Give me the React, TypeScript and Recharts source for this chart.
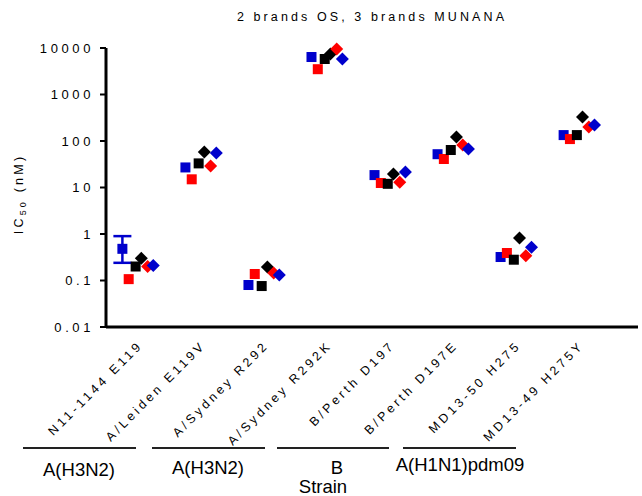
import React from "react";
import { ScatterChart, Scatter, XAxis, YAxis, ErrorBar } from "recharts";

const strains = [
  "N11-1144 E119",
  "A/Leiden E119V",
  "A/Sydney R292",
  "A/Sydney R292K",
  "B/Perth D197",
  "B/Perth D197E",
  "MD13-50 H275",
  "MD13-49 H275Y",
];

// IC50 (nM) per strain, one array per marker
const blueSquare = [0.48, 27, 0.08, 6400, 18.5, 52, 0.32, 134];
const redSquare = [0.107, 15, 0.138, 3500, 12.5, 41, 0.39, 110];
const blackSquare = [0.2, 33, 0.076, 5800, 12, 64, 0.28, 134];
const blackDiamond = [0.3, 58, 0.195, 7400, 19.5, 122, 0.82, 330];
const redDiamond = [0.2, 29, 0.145, 9500, 13, 82, 0.34, 200];
const blueDiamond = [0.21, 55, 0.132, 5800, 21.6, 67, 0.52, 220];
// range (low, high) for the blue square where there is one
const blueSquareRange: ([number, number] | null)[] = [[0.24, 0.9], null, null, null, null, null, null, null];

const yTicks = [0.01, 0.1, 1, 10, 100, 1000, 10000];

const groups = [
  { label: "A(H3N2)", from: 23, to: 136, tx: 79, ty: 476 },
  { label: "A(H3N2)", from: 152, to: 265, tx: 208, ty: 474 },
  { label: "B", from: 277, to: 389, tx: 337, ty: 474 },
  { label: "A(H1N1)pdm09", from: 403, to: 516, tx: 460, ty: 471 },
];

const BLUE = "#0000cc";
const RED = "#ff0000";
const BLACK = "#000000";
const FONT = "'Liberation Sans', Arial, sans-serif";

const makeData = (vals: number[], off: number, range?: ([number, number] | null)[]) =>
  vals.map((v, i) => {
    const r = range ? range[i] : null;
    return {
      x: i + off,
      y: v,
      ...(r ? { err: [v - r[0], r[1] - v] } : {}),
    };
  });

const square = (color: string) => (props: any) => {
  const { cx, cy } = props;
  if (cx == null || cy == null) return <g />;
  return <rect x={cx - 5} y={cy - 5} width={10} height={10} fill={color} />;
};

const diamond = (color: string) => (props: any) => {
  const { cx, cy } = props;
  if (cx == null || cy == null) return <g />;
  const r = 6.5;
  return (
    <polygon
      points={`${cx},${cy - r} ${cx + r},${cy} ${cx},${cy + r} ${cx - r},${cy}`}
      fill={color}
    />
  );
};

const XTick = (props: any) => {
  const { x, y, payload } = props;
  const name = strains[payload.value];
  if (name == null) return null;
  return (
    <g transform={`translate(${x + 6},${y + 19})`}>
      <text
        transform="rotate(-45)"
        textAnchor="end"
        fontSize={12.5}
        letterSpacing={3.3}
        fontFamily={FONT}
        fill="#000"
      >
        {name}
      </text>
    </g>
  );
};

const YTick = (props: any) => {
  const { x, y, payload } = props;
  return (
    <text
      x={x - 6}
      y={y + 4.5}
      textAnchor="end"
      fontSize={13}
      letterSpacing={3.6}
      fontFamily={FONT}
      fill="#000"
    >
      {String(payload.value)}
    </text>
  );
};

export default function App() {
  const series = [
    { name: "blueSquare", vals: blueSquare, off: -0.24, shape: square(BLUE), range: blueSquareRange },
    { name: "redSquare", vals: redSquare, off: -0.14, shape: square(RED) },
    { name: "blackSquare", vals: blackSquare, off: -0.03, shape: square(BLACK) },
    { name: "blackDiamond", vals: blackDiamond, off: 0.06, shape: diamond(BLACK) },
    { name: "redDiamond", vals: redDiamond, off: 0.16, shape: diamond(RED) },
    { name: "blueDiamond", vals: blueDiamond, off: 0.25, shape: diamond(BLUE) },
  ];

  return (
    <div
      style={{
        position: "absolute",
        left: 0,
        top: 0,
        width: 642,
        height: 496,
        background: "#fff",
        fontFamily: FONT,
      }}
    >
      <ScatterChart
        width={642}
        height={496}
        margin={{ top: 48, right: 4, bottom: 0, left: 0 }}
      >
        <XAxis
          type="number"
          dataKey="x"
          domain={[-0.5, 7.94]}
          ticks={[0, 1, 2, 3, 4, 5, 6, 7]}
          interval={0}
          height={169}
          tickLine={false}
          tickSize={0}
          tickMargin={0}
          axisLine={{ stroke: "#000", strokeWidth: 3 }}
          tick={<XTick />}
        />
        <YAxis
          type="number"
          dataKey="y"
          scale="log"
          domain={[0.01, 10000]}
          ticks={yTicks}
          interval={0}
          width={106}
          tickSize={6}
          tickMargin={0}
          tickLine={{ stroke: "#000", strokeWidth: 2 }}
          axisLine={{ stroke: "#000", strokeWidth: 3 }}
          tick={<YTick />}
        />
        {series.map((s) => (
          <Scatter
            key={s.name}
            name={s.name}
            data={makeData(s.vals, s.off, s.range)}
            shape={s.shape}
            isAnimationActive={false}
          >
            {s.range ? (
              <ErrorBar
                dataKey="err"
                direction="y"
                width={9}
                strokeWidth={2.5}
                stroke={BLUE}
              />
            ) : null}
          </Scatter>
        ))}
      </ScatterChart>
      <svg
        width={642}
        height={496}
        style={{ position: "absolute", left: 0, top: 0, pointerEvents: "none" }}
      >
        <text
          x={372}
          y={21}
          textAnchor="middle"
          fontSize={12.5}
          letterSpacing={3.1}
          fontFamily={FONT}
          fill="#000"
        >
          2 brands OS, 3 brands MUNANA
        </text>
        <text
          transform="translate(23,194) rotate(-90)"
          textAnchor="middle"
          fontSize={12.5}
          letterSpacing={3.2}
          fontFamily={FONT}
          fill="#000"
        >
          IC
          <tspan fontSize={9} dy={3}>
            50
          </tspan>
          <tspan dy={-3}> (nM)</tspan>
        </text>
        {groups.map((g, i) => (
          <g key={i}>
            <line x1={g.from} x2={g.to} y1={448} y2={448} stroke="#222" strokeWidth={2} />
            <text
              x={g.tx}
              y={g.ty}
              textAnchor="middle"
              fontSize={18.5}
              fontFamily={FONT}
              fill="#000"
            >
              {g.label}
            </text>
          </g>
        ))}
        <text x={323} y={493} textAnchor="middle" fontSize={18.5} fontFamily={FONT} fill="#000">
          Strain
        </text>
      </svg>
    </div>
  );
}
